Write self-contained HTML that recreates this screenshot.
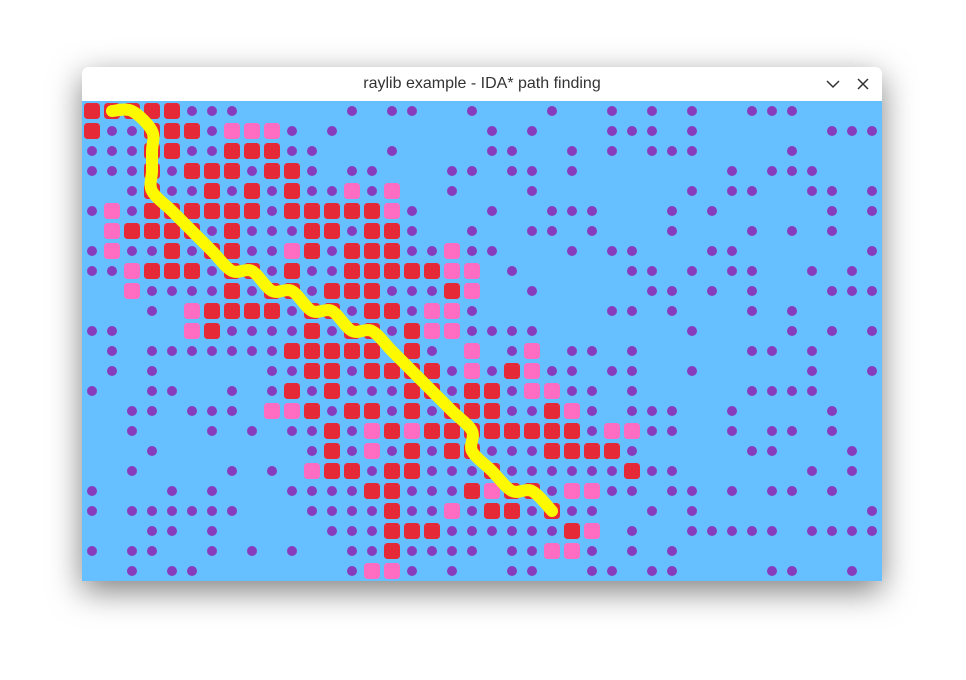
<!DOCTYPE html>
<html><head><meta charset="utf-8"><style>
html,body{margin:0;padding:0;background:#fff;width:966px;height:680px;overflow:hidden}
#win{position:absolute;left:82px;top:67px;width:800px;height:514px;border-radius:7px 7px 0 0;box-shadow:0 10px 32px rgba(0,0,0,0.5);background:#fff}
#title{position:absolute;left:0;top:0;width:800px;height:34px;font:16px "Liberation Sans","DejaVu Sans",sans-serif;line-height:34px;text-align:center;color:#333;background:#fff;border-radius:7px 7px 0 0}
#canvas{position:absolute;left:0;top:34px}
</style></head><body>
<div id="win">
<div id="title"><span>raylib example - IDA* path finding</span></div>
<svg style="position:absolute;left:743px;top:10px" width="16" height="14"><polyline points="2,4 8,10 14,4" fill="none" stroke="#333" stroke-width="1.5"/></svg>
<svg style="position:absolute;left:774px;top:10px" width="14" height="14"><path d="M2,2 L12,12 M12,2 L2,12" stroke="#333" stroke-width="1.5"/></svg>
<svg id="canvas" width="800" height="480"><rect width="800" height="480" fill="#66BFFF"/></svg>
</div>
<script>
const gridRows = [
"RRRRRooo.....o.oo..o...o..o.o.o..ooo....",
"RooRRRoPPPo.o.......o.o...ooo.o......ooo",
"oooRRooRRRoo...o....oo..o.o.ooo....o....",
"oooRoRRRoRRo.oo...oo.oo.o.......o.ooo...",
"..oRooRoRoRooPoP..o...o.......o.oo..oo.o",
"oPoRRRRRRoRRRRRPo...o..ooo...o.o.....o.o",
".PRRRRoRoooRRoRRo..o..oo.o...o...o.o.o..",
"oPooRoRRooPRoRRRooPoo...o.oo...oo......o",
"ooPRRRoRRoRooRRRRRPP.o.....oo.o.oo..o.o.",
"..PooooRoRRoRRRoooRP..o.....oo.o.o...ooo",
"...o.PRRRRoRRoRRoPPo......oo.o...o.o....",
"oo...PRooooRoRRoRPPoooo.......o....o.o.o",
".o.oooooooRRRRRoRo.P.oP.oo.o.....oo.o...",
".o.o.....ooRRoRRRRoPoRPoo.oo..o.....o..o",
"o..oo..o.oRoRoooRRoRRoPPoo.o.....oooo...",
"..oo.ooo.PPRoRRoRoRRRooRPo.ooo..o....o..",
"..o...o.o.ooRoPRPRRRRRRRRoPPoo..o.oo.o..",
"...o.......oRoPoRoRRoooRRRRo.....oo...o.",
"..o....o.o.PRRoRRoooRooooooRoo......o.o.",
"o...o.o...ooooRRoooRPRRoPPoo.oo.o.oo.o..",
"o.oooooo...ooooRooPoRRoRoo..o.o........o",
"...oo.o.....oooRRRooooooRP.o..ooooo.oooo",
"o.oo..o.o.o..ooRoooo.ooPPo.o.o..........",
"..o.oo.......oPPo.o..oo..oo.oo....oo..o."
];
const pathCols = [1,2,3,3,3,3,4,5,6,7,8,9,10,11,12,13,14,15,16,17,18,19,19,20,21,22,23];
const pathRowsIdx = [0,0,1,2,3,4,5,6,7,8,8,9,9,10,10,11,11,12,13,14,15,16,17,18,19,19,20];
const NS="http://www.w3.org/2000/svg", svg=document.getElementById('canvas'), CELL=20;
const cx=c=>c*CELL+10, cy=r=>r*CELL+10;
gridRows.forEach((row,r)=>{[...row].forEach((ch,c)=>{
  let el;
  if(ch==='o'){el=document.createElementNS(NS,'circle');el.setAttribute('cx',cx(c));el.setAttribute('cy',cy(r));el.setAttribute('r',5);el.setAttribute('fill','#873CBE');
    
  } else if(ch==='R'||ch==='P'){el=document.createElementNS(NS,'rect');el.setAttribute('x',cx(c)-8);el.setAttribute('y',cy(r)-8);el.setAttribute('width',16);el.setAttribute('height',16);el.setAttribute('rx',3.5);el.setAttribute('fill',ch==='R'?'#E62937':'#FF6DC2');
    
  } else return;
  
  svg.appendChild(el);
});});
const pts=pathCols.map((c,i)=>[cx(c),cy(pathRowsIdx[i])]);
let d='M'+pts[0][0]+','+pts[0][1];
for(let i=0;i<pts.length-1;i++){
  const p0=pts[Math.max(i-1,0)],p1=pts[i],p2=pts[i+1],p3=pts[Math.min(i+2,pts.length-1)];
  const c1=[p1[0]+(p2[0]-p0[0])/6,p1[1]+(p2[1]-p0[1])/6],c2=[p2[0]-(p3[0]-p1[0])/6,p2[1]-(p3[1]-p1[1])/6];
  d+=` C${c1[0]},${c1[1]} ${c2[0]},${c2[1]} ${p2[0]},${p2[1]}`;
}
const path=document.createElementNS(NS,'path');
path.setAttribute('d',d);path.setAttribute('fill','none');path.setAttribute('stroke','#FDF900');path.setAttribute('stroke-width',12);path.setAttribute('stroke-linecap','round');path.setAttribute('stroke-linejoin','round');


svg.appendChild(path);
</script>
</body></html>
